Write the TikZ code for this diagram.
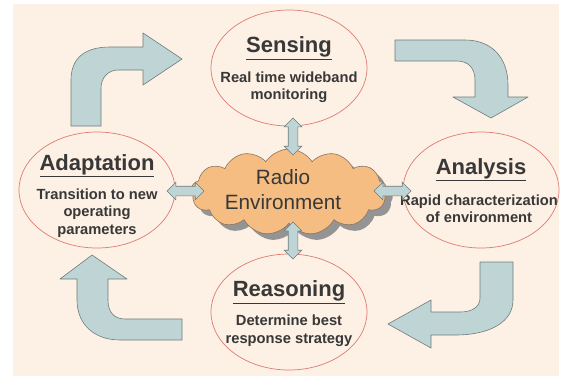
\documentclass[tikz,border=0pt]{standalone}
\usepackage{fontspec}
\setmainfont{Liberation Sans}
\usetikzlibrary{shapes.geometric,shapes.symbols,shapes.arrows,shadows}

\definecolor{bgpeach}{HTML}{FDF0E4}
\definecolor{ringred}{HTML}{E07A72}
\definecolor{blockfill}{HTML}{BFD5D5}
\definecolor{blockline}{HTML}{6E7C7C}
\definecolor{cloudfill}{HTML}{F5BD82}
\definecolor{cloudline}{HTML}{8A7461}
\definecolor{textgrey}{HTML}{383838}

\tikzset{
  stage/.style={ellipse, draw=ringred, line width=0.7pt, minimum width=156pt, minimum height=116pt, inner sep=0pt},
  stagetitle/.style={font=\fontsize{22}{26}\selectfont\bfseries, text=textgrey},
  stagetext/.style={font=\fontsize{14.7}{17.5}\selectfont\bfseries, text=textgrey, align=center},
  linkarrow/.style={double arrow, fill=blockfill, draw=blockline, line width=0.6pt, inner xsep=0pt, inner ysep=4.5pt,
    double arrow head extend=4pt, minimum height=37pt},
  turnarrow/.style={fill=blockfill, draw=blockline, line width=0.6pt, line join=round}
}

\begin{document}
\begin{tikzpicture}[x=1pt, y=-1pt]
    \useasboundingbox (0,0) rectangle (562,378);
    \fill[bgpeach] (13,4) rectangle (559,376);

    % the four stages
    \node[stage] (sensing) at (289,68) {};
    \node[stage] (analysis) at (481,190) {};
    \node[stage] (reasoning) at (289,312) {};
    \node[stage] (adaptation) at (97,190) {};

    \node[stagetitle, yshift=20pt] (sensing_title) at (sensing) {\underline{Sensing}};
    \node[stagetext, yshift=-19pt] (sensing_text) at (sensing) {Real time wideband\\monitoring};
    \node[stagetitle, yshift=20pt] (analysis_title) at (analysis) {\underline{Analysis}};
    \node[stagetext, yshift=-18.5pt, xshift=-2pt] (analysis_text) at (analysis) {Rapid characterization\\of environment};
    \node[stagetitle, yshift=20pt] (reasoning_title) at (reasoning) {\underline{Reasoning}};
    \node[stagetext, yshift=-18.5pt] (reasoning_text) at (reasoning) {Determine best\\response strategy};
    \node[stagetitle, yshift=24pt] (adaptation_title) at (adaptation) {\underline{Adaptation}};
    \node[stagetext, yshift=-23pt] (adaptation_text) at (adaptation) {Transition to new\\operating\\parameters};

    % radio environment
    \node[cloud, cloud puffs=13, cloud puff arc=115, cloud ignores aspect, minimum width=196pt, minimum height=86pt,
          fill=cloudfill, draw=cloudline, line width=0.6pt,
          drop shadow={shadow xshift=6pt, shadow yshift=-6pt, fill=black!42, opacity=1}] (cloud) at (289,192) {};
    \node[font=\fontsize{20.7}{25}\selectfont, text=textgrey, align=center, xshift=-6pt, yshift=2pt] (cloud_text) at (cloud) {Radio\\Environment};

    % links to the environment
    \node[linkarrow, rotate=90] (link_sensing) at (293,136.5) {};
    \node[linkarrow, rotate=90] (link_reasoning) at (293,240.5) {};
    \node[linkarrow] (link_adaptation) at (185.5,191) {};
    \node[linkarrow] (link_analysis) at (392.5,191) {};

    % cycle arrows
    \draw[turnarrow] (71,126) -- (71,80) .. controls (71,58) and (85,47) .. (110,47) -- (143,47) -- (143,33)
        -- (182,59) -- (143,85) -- (143,70) -- (118,70) .. controls (108,70) and (101,78) .. (101,88) -- (101,126) -- cycle;
    \draw[turnarrow] (395,40) -- (465,40) .. controls (492,40) and (508,58) .. (508,85) -- (508,97) -- (528,97)
        -- (491,118) -- (453,97) -- (475,97) -- (475,80) .. controls (475,68) and (468,61) .. (457,61) -- (395,61) -- cycle;
    \draw[turnarrow] (480,262) -- (513,262) -- (513,300) .. controls (513,322) and (490,335) .. (455,335) -- (431,335)
        -- (431,348) -- (388,324) -- (431,300) -- (431,312) -- (460,312) .. controls (472,312) and (480,307) .. (480,298) -- cycle;
    \draw[turnarrow] (182,319) -- (182,340) -- (120,340) .. controls (95,340) and (77,325) .. (77,300) -- (77,279)
        -- (60,279) -- (92,255) -- (127,279) -- (108,279) -- (108,300) .. controls (108,312) and (114,319) .. (125,319) -- cycle;

\end{tikzpicture}
\end{document}
